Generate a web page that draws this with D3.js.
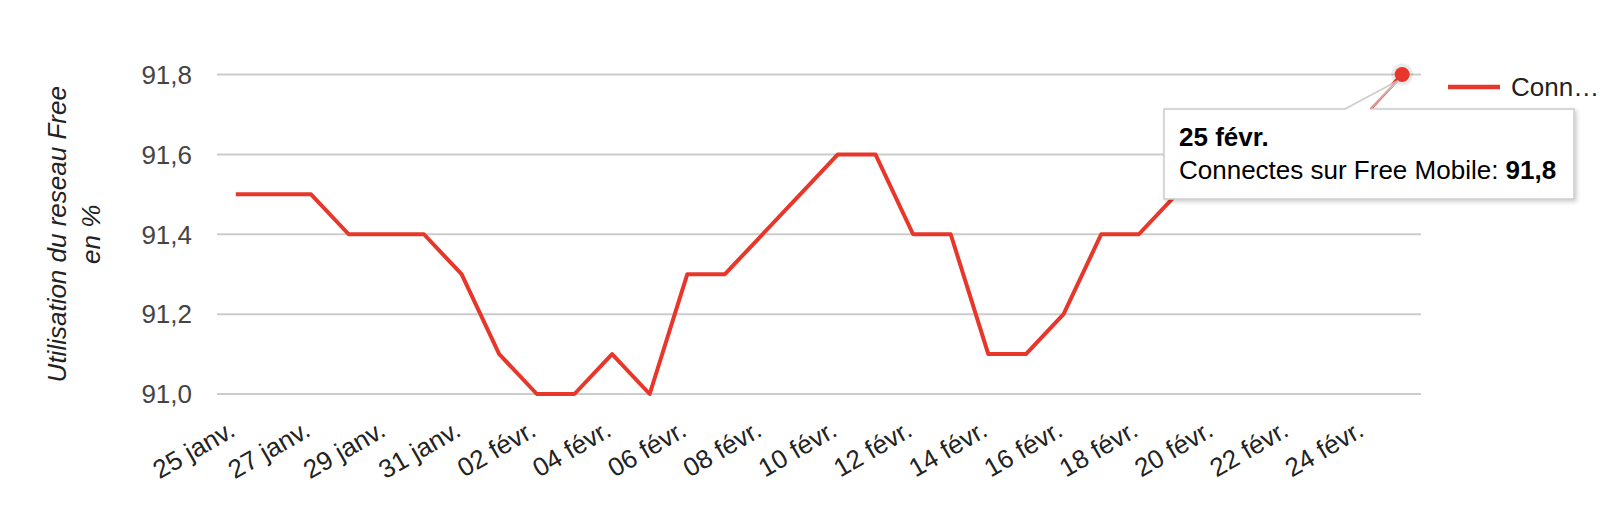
<!DOCTYPE html>
<html>
<head>
  <meta charset="utf-8">
  <script src="https://unpkg.com/d3@7/dist/d3.min.js"></script>
  <style>
    body { margin: 0; background: #fff; }
    text { font-family: Arial, "Liberation Sans", sans-serif; }
  </style>
</head>
<body>
<div id="chart"></div>
<script>
  // daily values, 25 janv. -> 25 févr.
  var dates = ["2021-01-25", "2021-01-26", "2021-01-27", "2021-01-28", "2021-01-29", "2021-01-30", "2021-01-31",
    "2021-02-01", "2021-02-02", "2021-02-03", "2021-02-04", "2021-02-05", "2021-02-06", "2021-02-07", "2021-02-08",
    "2021-02-09", "2021-02-10", "2021-02-11", "2021-02-12", "2021-02-13", "2021-02-14", "2021-02-15", "2021-02-16",
    "2021-02-17", "2021-02-18", "2021-02-19", "2021-02-20", "2021-02-21", "2021-02-22", "2021-02-23", "2021-02-24",
    "2021-02-25"];
  var values = [91.5, 91.5, 91.5, 91.4, 91.4, 91.4, 91.3,
    91.1, 91.0, 91.0, 91.1, 91.0, 91.3, 91.3, 91.4,
    91.5, 91.6, 91.6, 91.4, 91.4, 91.1, 91.1, 91.2,
    91.4, 91.4, 91.5, 91.6, 91.6, 91.6, 91.7, 91.7,
    91.8];
  var yTicks = [91.0, 91.2, 91.4, 91.6, 91.8];
  var xTickDates = ["2021-01-25", "2021-01-27", "2021-01-29", "2021-01-31", "2021-02-02", "2021-02-04", "2021-02-06",
    "2021-02-08", "2021-02-10", "2021-02-12", "2021-02-14", "2021-02-16", "2021-02-18", "2021-02-20", "2021-02-22",
    "2021-02-24"];
  var xTickLabels = ["25 janv.", "27 janv.", "29 janv.", "31 janv.", "02 févr.", "04 févr.", "06 févr.",
    "08 févr.", "10 févr.", "12 févr.", "14 févr.", "16 févr.", "18 févr.", "20 févr.", "22 févr.",
    "24 févr."];
  var seriesName = "Connectes sur Free Mobile";
  var yTitle = ["Utilisation du reseau Free", "en %"];
  var tipDate = "25 févr.";

  var width = 1600, height = 507;
  var red = "#e8372a";
  var fs = 26;
  var parse = d3.utcParse("%Y-%m-%d");
  var data = dates.map(function (d, i) { return { date: parse(d), value: values[i] }; });
  var fr = d3.formatLocale({ decimal: ",", thousands: " ", grouping: [3], currency: ["", " €"] });
  var fmt = fr.format(".1f");

  var day = 864e5;
  var x = d3.scaleUtc()
    .domain([new Date(data[0].date - day / 2), new Date(+data[data.length - 1].date + day / 2)])
    .range([217, 1421]);
  var y = d3.scaleLinear().domain([91.0, 91.8]).range([394, 74.5]);

  var svg = d3.select("#chart").append("svg")
    .attr("width", width).attr("height", height);

  var defs = svg.append("defs");
  var f = defs.append("filter").attr("id", "shadow")
    .attr("x", "-10%").attr("y", "-10%").attr("width", "130%").attr("height", "140%");
  f.append("feDropShadow").attr("dx", 2).attr("dy", 2).attr("stdDeviation", 2)
    .attr("flood-color", "#000").attr("flood-opacity", 0.2);

  // grid + y labels
  svg.append("g").selectAll("line").data(yTicks).join("line")
    .attr("x1", x.range()[0]).attr("x2", x.range()[1])
    .attr("y1", function (d) { return y(d); }).attr("y2", function (d) { return y(d); })
    .attr("stroke", "#cccccc").attr("stroke-width", 2);
  svg.append("g").selectAll("text").data(yTicks).join("text")
    .attr("x", 192).attr("y", function (d) { return y(d); })
    .attr("dy", "0.36em")
    .attr("text-anchor", "end")
    .attr("font-size", fs).attr("fill", "#444")
    .text(function (d) { return fmt(d); });

  // y title
  var yt = svg.append("text")
    .attr("transform", "translate(66," + ((y.range()[0] + y.range()[1]) / 2) + ") rotate(-90)")
    .attr("text-anchor", "middle")
    .attr("font-size", fs).attr("font-style", "italic").attr("fill", "#222");
  yt.append("tspan").attr("x", 0).attr("y", 0).text(yTitle[0]);
  yt.append("tspan").attr("x", 0).attr("y", 34).text(yTitle[1]);

  // x labels, slanted
  svg.append("g").selectAll("text").data(xTickDates).join("text")
    .attr("transform", function (d) { return "translate(" + (x(parse(d)) + 1) + ",435) rotate(-30)"; })
    .attr("text-anchor", "end")
    .attr("font-size", fs).attr("fill", "#222")
    .text(function (d, i) { return xTickLabels[i]; });

  // series line
  var line = d3.line()
    .x(function (d) { return x(d.date); })
    .y(function (d) { return y(d.value); });
  svg.append("path").datum(data)
    .attr("d", line)
    .attr("fill", "none").attr("stroke", red).attr("stroke-width", 4)
    .attr("stroke-linejoin", "round");

  // legend
  svg.append("line")
    .attr("x1", 1448).attr("x2", 1500).attr("y1", 87).attr("y2", 87)
    .attr("stroke", red).attr("stroke-width", 4.5);
  svg.append("text")
    .attr("x", 1511).attr("y", 87).attr("dy", "0.36em")
    .attr("font-size", fs).attr("fill", "#222")
    .text(seriesName.slice(0, 4) + "…");

  // focused point + tooltip
  var last = data[data.length - 1];
  var px = x(last.date), py = y(last.value);
  svg.append("circle").attr("cx", px).attr("cy", py).attr("r", 11)
    .attr("fill", "#000").attr("fill-opacity", 0.08);
  svg.append("circle").attr("cx", px).attr("cy", py).attr("r", 7.5).attr("fill", red);

  var tip = { x: 1164, y: 109, w: 410, h: 90 };
  svg.append("rect")
    .attr("x", tip.x).attr("y", tip.y).attr("width", tip.w).attr("height", tip.h)
    .attr("fill", "#fff").attr("stroke", "#cccccc").attr("stroke-width", 1.5)
    .attr("filter", "url(#shadow)");
  svg.append("path")
    .attr("d", "M" + 1345 + "," + (tip.y + 1) + "L" + (px - 4) + "," + (py + 6) + "L" + 1370 + "," + (tip.y + 1) + "Z")
    .attr("fill", "#fff");
  svg.append("path")
    .attr("d", "M" + 1345 + "," + tip.y + "L" + (px - 4) + "," + (py + 6) + "L" + 1370 + "," + tip.y)
    .attr("fill", "none").attr("stroke", "#cccccc").attr("stroke-width", 1.5);
  // bit of series line visible along the pointer edge
  svg.append("line")
    .attr("x1", px).attr("y1", py).attr("x2", 1370).attr("y2", tip.y)
    .attr("stroke", red).attr("stroke-opacity", 0.35).attr("stroke-width", 1.5);

  svg.append("text")
    .attr("x", tip.x + 15).attr("y", tip.y + 37)
    .attr("font-size", fs).attr("font-weight", "bold").attr("fill", "#000")
    .text(tipDate);
  var t2 = svg.append("text")
    .attr("x", tip.x + 15).attr("y", tip.y + 70)
    .attr("font-size", fs).attr("fill", "#000");
  t2.append("tspan").text(seriesName + ": ");
  t2.append("tspan").attr("font-weight", "bold").text(fmt(last.value));
</script>
</body>
</html>
